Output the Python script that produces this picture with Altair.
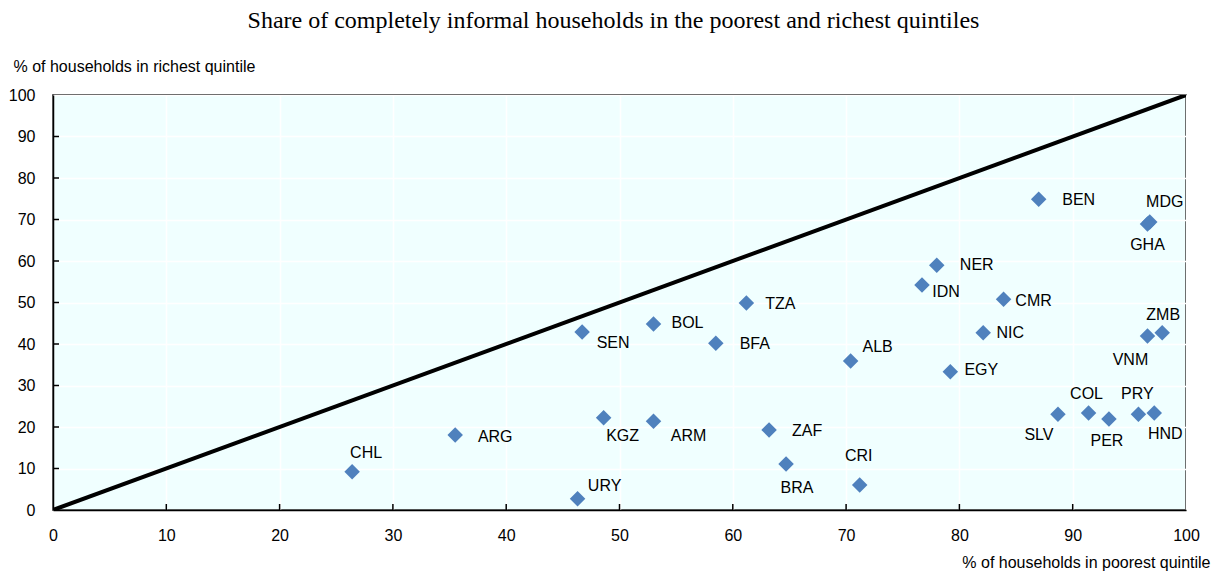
import altair as alt
import pandas as pd

# ---- data ----
codes = ["CHL", "ARG", "URY", "KGZ", "ARM", "ZAF", "BRA", "CRI", "SEN", "BOL",
         "BFA", "TZA", "ALB", "NER", "IDN", "CMR", "NIC", "EGY", "BEN", "MDG",
         "GHA", "ZMB", "VNM", "SLV", "COL", "PER", "PRY", "HND"]
poorest = [26.4, 35.5, 46.3, 48.6, 53.0, 63.2, 64.7, 71.2, 46.7, 53.0,
           58.5, 61.2, 70.4, 78.0, 76.7, 83.9, 82.1, 79.2, 87.0, 96.8,
           96.6, 97.9, 96.6, 88.7, 91.4, 93.2, 95.8, 97.2]
richest = [9.2, 18.1, 2.7, 22.2, 21.4, 19.3, 11.1, 6.0, 42.9, 44.8,
           40.2, 49.9, 35.9, 59.0, 54.2, 50.8, 42.7, 33.3, 74.9, 69.4,
           68.9, 42.7, 41.9, 23.1, 23.4, 21.9, 23.1, 23.4]
ticks = [0, 10, 20, 30, 40, 50, 60, 70, 80, 90, 100]
diag_x = [0, 100]
diag_y = [0, 100]

title_text = "Share of completely informal households in the poorest and richest quintiles"
x_title = "% of households in poorest quintile"
y_title = "% of households in richest quintile"

# label offsets (pixels) relative to each marker, as placed in the reference
label_offset = {
    "CHL": (14, -19), "ARG": (40, 2), "URY": (27, -13), "KGZ": (19, 18),
    "ARM": (35, 15), "ZAF": (38, 1), "BRA": (11, 24), "CRI": (-1, -29),
    "SEN": (31, 11), "BOL": (34, -1), "BFA": (39, 1), "TZA": (34, 1),
    "ALB": (27, -14), "NER": (40, 0), "IDN": (24, 7), "CMR": (30, 2),
    "NIC": (27, 0), "EGY": (31, -2), "BEN": (40, 1), "MDG": (15, -20),
    "GHA": (0, 21), "ZMB": (1, -18), "VNM": (-17, 24), "SLV": (-19, 21),
    "COL": (-2, -19), "PER": (-2, 22), "PRY": (-1, -20), "HND": (11, 21),
}

df = pd.DataFrame({"code": codes, "poorest": poorest, "richest": richest})
diag = pd.DataFrame({"x": diag_x, "y": diag_y})
tick_df = pd.DataFrame({"t": ticks[1:-1]})

SANS = "Liberation Sans"
W, H = 1133, 415

xscale = alt.Scale(domain=[0, 100], nice=False)
yscale = alt.Scale(domain=[0, 100], nice=False)

x_axis = alt.Axis(values=ticks, title=x_title, grid=True, gridColor="white", gridWidth=1.5,
                  ticks=False, domainColor="black", domainWidth=1.5, labelFlush=False,
                  labelFont=SANS, labelFontSize=16, labelColor="black", labelPadding=17,
                  titleFont=SANS, titleFontSize=16, titleFontWeight="normal", titleColor="black",
                  titleAlign="right", titleBaseline="middle", titleX=1157, titleY=52, titleAngle=0)
y_axis = alt.Axis(values=ticks, title=y_title, grid=True, gridColor="white", gridWidth=1.5,
                  ticks=False, domainColor="black", domainWidth=1.5, labelFlush=False,
                  labelFont=SANS, labelFontSize=16, labelColor="black", labelPadding=18,
                  titleFont=SANS, titleFontSize=16, titleFontWeight="normal", titleColor="black",
                  titleAlign="left", titleBaseline="middle", titleX=-40, titleY=-29, titleAngle=0)

base = alt.Chart(df)

points = base.mark_point(shape="diamond", filled=True, size=240, color="#4F81BD", opacity=1).encode(
    x=alt.X("poorest:Q", scale=xscale, axis=x_axis),
    y=alt.Y("richest:Q", scale=yscale, axis=y_axis),
)

line = alt.Chart(diag).mark_line(color="black", strokeWidth=4, clip=True).encode(
    x=alt.X("x:Q", scale=xscale),
    y=alt.Y("y:Q", scale=yscale),
)

xticks = alt.Chart(tick_df).mark_rule(color="black", strokeWidth=1.5).encode(
    x=alt.X("t:Q", scale=xscale), y=alt.value(H), y2=alt.value(H - 6))
yticks = alt.Chart(tick_df).mark_rule(color="black", strokeWidth=1.5).encode(
    y=alt.Y("t:Q", scale=yscale), x=alt.value(0), x2=alt.value(6))

label_layers = []
for c in codes:
    dx, dy = label_offset[c]
    label_layers.append(
        base.transform_filter(alt.datum.code == c).mark_text(
            font=SANS, fontSize=16, color="black", align="center", baseline="middle", dx=dx, dy=dy
        ).encode(x=alt.X("poorest:Q", scale=xscale), y=alt.Y("richest:Q", scale=yscale), text="code:N")
    )

chart = alt.layer(line, xticks, yticks, points, *label_layers).properties(
    width=W, height=H,
    background="white",
    title=alt.TitleParams(title_text, font="Liberation Serif", fontSize=24, fontWeight="normal",
                          color="black", anchor="middle", dx=-6, dy=-21),
    autosize=alt.AutoSizeParams(type="none"),
    padding={"left": 45, "top": 87, "right": 26, "bottom": 62},
).configure_view(
    fill="#F0FFFF", stroke="black", strokeWidth=1.5
)

chart.save("out.html", embed_options={"renderer": "svg", "actions": False})
